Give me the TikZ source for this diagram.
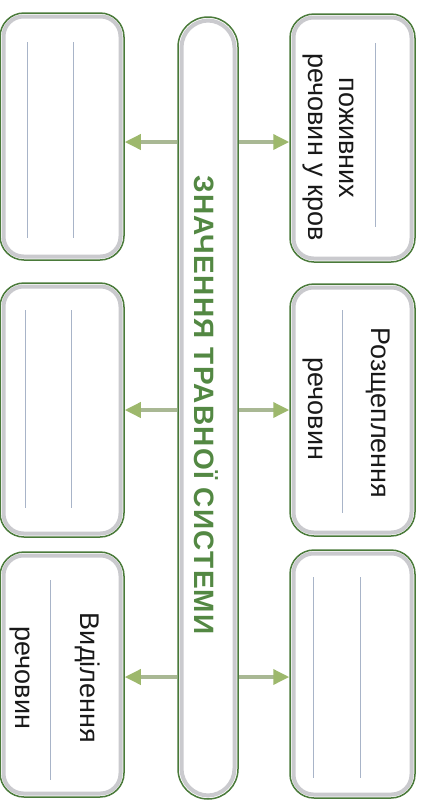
\documentclass[tikz,border=0pt]{standalone}
\usepackage{fontspec}
\setmainfont{Liberation Sans}
\usetikzlibrary{arrows.meta,calc}
\definecolor{bgreen}{HTML}{4A7A3A}
\definecolor{tgreen}{HTML}{538843}
\definecolor{agreen}{HTML}{9DB86C}
\definecolor{aline}{HTML}{A9B894}
\definecolor{wline}{HTML}{A8B4C8}
\definecolor{bevel}{HTML}{CACACE}
\begin{document}
\begin{tikzpicture}[x=1pt,y=-1pt,
  card/.style={draw=bgreen, line width=1.5pt, fill=white, rounded corners=24pt,
    inner sep=0pt, minimum width=125pt,
    path picture={\draw[bevel, line width=4pt, rounded corners=20pt]
      ($(path picture bounding box.north west)+(3.5pt,-3.5pt)$) rectangle
      ($(path picture bounding box.south east)+(-3.5pt,3.5pt)$);}},
  pillbox/.style={draw=bgreen, line width=1.5pt, fill=white, rounded corners=30pt,
    inner sep=0pt, minimum width=60pt, minimum height=782pt,
    path picture={\draw[bevel, line width=4pt, rounded corners=27pt]
      ($(path picture bounding box.north west)+(3.5pt,-3.5pt)$) rectangle
      ($(path picture bounding box.south east)+(-3.5pt,3.5pt)$);}},
  txt/.style={rotate=-90, font=\fontsize{27}{30}\selectfont, inner sep=0pt, text=black!90},
  title/.style={rotate=-90, font=\fontsize{28}{30}\selectfont\bfseries\addfontfeatures{LetterSpace=4.5}, inner sep=0pt, text=tgreen},
  wl/.style={draw=wline, line width=0.8pt},
  arr/.style={draw=aline, line width=3.5pt, -{Triangle[length=16pt,width=15pt,fill=agreen,color=agreen]}}
]
\useasboundingbox (0,0) rectangle (422,801);

% center pill
\node[pillbox] (pill) at (208,408) {};
\node[title] (ttl) at (206,405) {ЗНАЧЕННЯ ТРАВНОЇ СИСТЕМИ};

% right cards
\node[card, minimum height=248pt] (R1) at (352.5,138) {};
\node[card, minimum height=252pt] (R2) at (352.5,410) {};
\node[card, minimum height=248pt] (R3) at (352.5,674) {};
% left cards
\node[card, minimum width=124pt, minimum height=247pt] (L1) at (62,136.5) {};
\node[card, minimum width=124pt, minimum height=254pt] (L2) at (62,410) {};
\node[card, minimum width=124pt, minimum height=245pt] (L3) at (62,674.5) {};

% writing lines
\draw[wl] (375,43) -- (375,227);
\draw[wl] (342,310) -- (342,513);
\draw[wl] (313,577) -- (313,778);
\draw[wl] (360,577) -- (360,778);
\draw[wl] (27,42) -- (27,238);
\draw[wl] (73,42) -- (73,238);
\draw[wl] (25,310) -- (25,508);
\draw[wl] (71,310) -- (71,508);
\draw[wl] (50,580) -- (50,780);

% texts
\node[txt] (t1a) at (347,138) {поживних};
\node[txt] (t1b) at (313,147) {речовин у кров};
\node[txt] (t2a) at (378,413) {Розщеплення};
\node[txt] (t2b) at (313,409) {речовин};
\node[txt] (t3a) at (88,678) {Виділення};
\node[txt] (t3b) at (20,678) {речовин};

% arrows
\draw[arr] (pill.west |- 0,142) -- (L1.east |- 0,142);
\draw[arr] (pill.east |- 0,142) -- (R1.west |- 0,142);
\draw[arr] (pill.west |- 0,410) -- (L2.east |- 0,410);
\draw[arr] (pill.east |- 0,410) -- (R2.west |- 0,410);
\draw[arr] (pill.west |- 0,677) -- (L3.east |- 0,677);
\draw[arr] (pill.east |- 0,677) -- (R3.west |- 0,677);
\end{tikzpicture}
\end{document}
